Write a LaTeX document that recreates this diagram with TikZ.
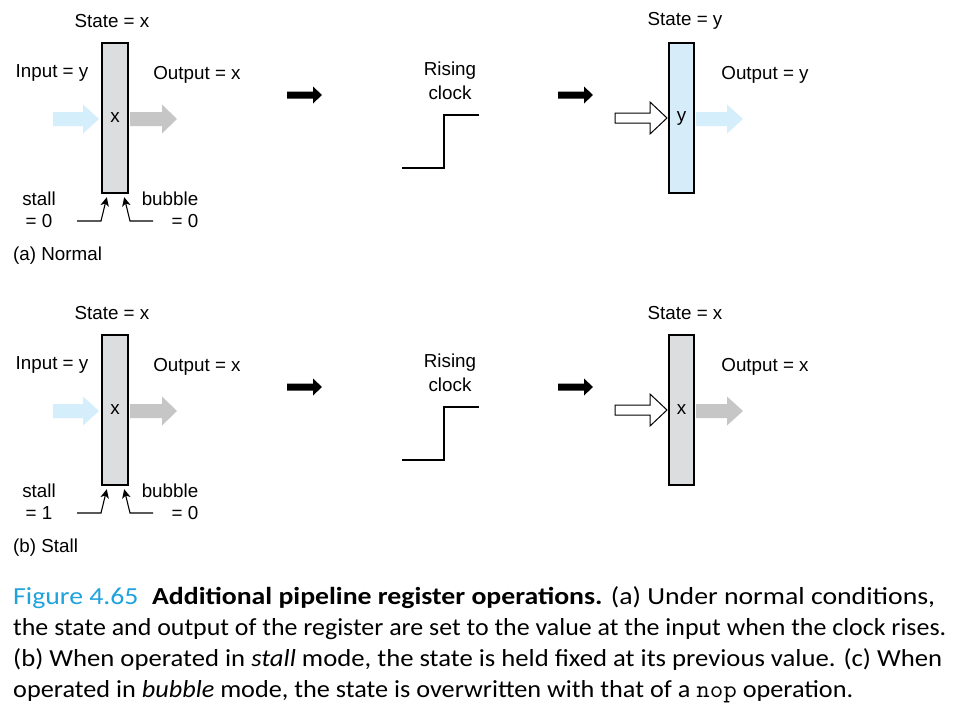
\documentclass[tikz,border=0pt]{standalone}
\usepackage{graphicx}
\usepackage{fontspec}
\setmainfont{Liberation Sans}
\newfontfamily\capfont{Carlito}
\usetikzlibrary{arrows.meta,calc}
\definecolor{lblue}{HTML}{D4EEFB}
\definecolor{regblue}{HTML}{D6EDF9}
\definecolor{reggrey}{HTML}{DCDDDF}
\definecolor{arrgrey}{HTML}{C6C6C6}
\definecolor{figblue}{HTML}{1FA3DC}
\tikzset{
  lbl/.style={inner sep=0pt, font=\fontsize{18.8}{22}\selectfont},
  regbox/.style={draw=black, line width=2.4pt, minimum width=26pt, minimum height=150pt, inner sep=0pt, font=\fontsize{18.8}{22}\selectfont},
  ctl/.style={line width=1.1pt, -{Stealth[length=9pt,width=8.5pt,inset=2.5pt]}},
  clk/.style={line width=2pt},
  capline/.style={anchor=base west, inner sep=0pt, font=\capfont\fontsize{24.5}{28}\selectfont},
}
% fat arrow: colour, x start, x head, x tip, y centre
\newcommand\fatarrow[5]{\fill[#1] (#2,#5-7) -- (#3,#5-7) -- (#3,#5-14.5) -- (#4,#5) -- (#3,#5+14.5) -- (#3,#5+7) -- (#2,#5+7) -- cycle;}
\newcommand\blackarrow[1]{\fill[black] (#1,91.5) -- (#1+26,91.5) -- (#1+26,86.5) -- (#1+35,95) -- (#1+26,103.5) -- (#1+26,98.5) -- (#1,98.5) -- cycle;}
% panel: #1 yoffset, #2 suffix, #3 stall value, #4 right fill, #5 right letter, #6 right output arrow colour, #7 label
\newcommand\regpanel[7]{%
\begin{scope}[yshift=-#1pt]
  \node[lbl] (st#2) at (112,21) {State = x};
  \node[lbl] (in#2) at (52,73) {Input = y};
  \node[lbl] (out#2) at (197,75) {Output = x};
  \fatarrow{lblue}{53}{83}{99}{119}
  \fatarrow{arrgrey}{130}{162}{177}{119}
  \node[regbox, fill=reggrey] (reg#2) at (115,118) {x};
  \node[lbl] (stall#2) at (39,199) {stall};
  \node[lbl] (sv#2) at (39,221) {= #3};
  \node[lbl] (bub#2) at (170,199) {bubble};
  \node[lbl] (bv#2) at (185,221) {= 0};
  \coordinate (sa#2) at (77,221);
  \coordinate (sb#2) at (101,221);
  \coordinate (ba#2) at (153,221);
  \coordinate (bb#2) at (130,221);
  \draw[ctl] (sa#2) -- (sb#2) -- ($(reg#2.south west)+(6,3)$);
  \draw[ctl] (ba#2) -- (bb#2) -- ($(reg#2.south east)+(-5,3)$);
  \node[lbl, anchor=west] (lab#2) at (13,256) {#7};
  \blackarrow{287}
  \node[lbl] (rc#2) at (450,71) {Rising};
  \node[lbl] (rcb#2) at (450,93) {clock};
  \coordinate (c1#2) at (402,168);
  \coordinate (c2#2) at (444,168);
  \coordinate (c3#2) at (444,115);
  \coordinate (c4#2) at (479,115);
  \draw[clk] (c1#2) -- (c2#2) -- (c3#2) -- (c4#2);
  \blackarrow{558}
  \draw[line width=1pt, draw=black, fill=white] (615,113) -- (650,113) -- (650,102) -- (667,118) -- (650,134) -- (650,123) -- (615,123) -- cycle;
  \fatarrow{#6}{696}{727}{743}{119}
  \node[regbox, fill=#4, minimum width=25pt] (rreg#2) at (681.5,118) {#5};
  \node[lbl] (rst#2) at (685,21) {State = #5};
  \node[lbl] (rout#2) at (765,75) {Output = #5};
\end{scope}}
\begin{document}
\begin{tikzpicture}[x=1pt,y=-1pt]
\useasboundingbox[fill=white] (0,0) rectangle (958,715);
\regpanel{0}{a}{0}{regblue}{y}{lblue}{(a) Normal}
\regpanel{292}{b}{1}{reggrey}{x}{arrgrey}{(b) Stall}
\node[capline] (cap1) at (13,604) {\resizebox{922pt}{\height}{{\color{figblue}Figure 4.65}\hspace{12pt}\textbf{Additional pipeline register operations.} (a) Under normal conditions,}};
\node[capline] (cap2) at (13,635) {\resizebox{933pt}{\height}{the state and output of the register are set to the value at the input when the clock rises.}};
\node[capline] (cap3) at (13,666) {\resizebox{929pt}{\height}{(b) When operated in \textit{stall} mode, the state is held fixed at its previous value. (c) When}};
\node[capline] (cap4) at (13,697) {\resizebox{840pt}{\height}{operated in \textit{bubble} mode, the state is overwritten with that of a {\ttfamily nop} operation.}};
\end{tikzpicture}
\end{document}
